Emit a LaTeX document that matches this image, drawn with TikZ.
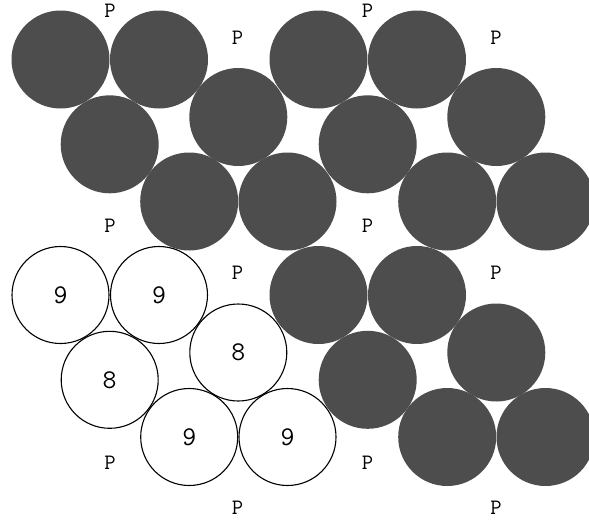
\documentclass[tikz,border=0pt]{standalone}
\definecolor{ball}{HTML}{4D4D4D}
\tikzset{
  x=1pt, y=-1pt,
  darkball/.style={circle, fill=ball, minimum size=98pt, inner sep=0pt},
  whiteball/.style={circle, draw=black, line width=1.1pt, fill=white, minimum size=97pt, inner sep=0pt, font=\ttfamily\fontsize{27}{27}\selectfont},
  plabel/.style={inner sep=0pt, font=\ttfamily\fontsize{22}{22}\selectfont}
}
\begin{document}
\begin{tikzpicture}
\clip (0,0) rectangle (589,525);
\fill[white] (0,0) rectangle (589,525);
% top-left group
\node[darkball] (a1) at (60.5,59.5) {};
\node[darkball] (a2) at (159,59.5) {};
\node[darkball] (a3) at (109.7,144.3) {};
\node[darkball] (a4) at (238.3,117) {};
\node[darkball] (a5) at (189.2,201.5) {};
\node[darkball] (a6) at (287.5,201.5) {};
% top-right group
\node[darkball] (b1) at (318.5,59.5) {};
\node[darkball] (b2) at (417,59.5) {};
\node[darkball] (b3) at (367.7,144.3) {};
\node[darkball] (b4) at (496.3,117) {};
\node[darkball] (b5) at (447.2,201.5) {};
\node[darkball] (b6) at (545.5,201.5) {};
% bottom-right group
\node[darkball] (d1) at (318.5,295) {};
\node[darkball] (d2) at (417,295) {};
\node[darkball] (d3) at (367.7,379.8) {};
\node[darkball] (d4) at (496.3,352.5) {};
\node[darkball] (d5) at (447.2,437) {};
\node[darkball] (d6) at (545.5,437) {};
% bottom-left group
\node[whiteball] (c1) at (60.5,295) {9};
\node[whiteball] (c2) at (159,295) {9};
\node[whiteball] (c3) at (109.7,379.8) {8};
\node[whiteball] (c4) at (238.3,352.5) {8};
\node[whiteball] (c5) at (189.2,437) {9};
\node[whiteball] (c6) at (287.5,437) {9};
% labels
\node[plabel] (p1) at (110,10.5) {P};
\node[plabel] (p2) at (237.5,37.5) {P};
\node[plabel] (p3) at (367.5,10.5) {P};
\node[plabel] (p4) at (496,37.5) {P};
\node[plabel] (p5) at (110,226) {P};
\node[plabel] (p6) at (237.5,273) {P};
\node[plabel] (p7) at (367.5,226) {P};
\node[plabel] (p8) at (496,273) {P};
\node[plabel] (p9) at (110,463) {P};
\node[plabel] (p10) at (237.5,508) {P};
\node[plabel] (p11) at (367.5,463) {P};
\node[plabel] (p12) at (496,508) {P};
\end{tikzpicture}
\end{document}
